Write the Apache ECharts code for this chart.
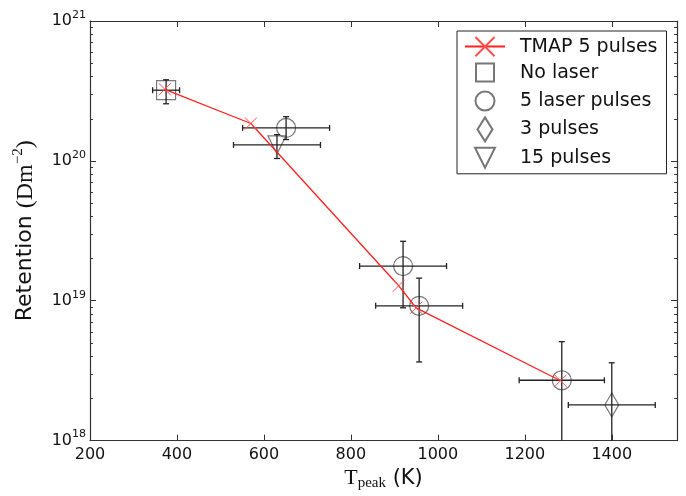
<!DOCTYPE html>
<html>
<head>
<meta charset="utf-8">
<script src="https://cdn.jsdelivr.net/npm/echarts@6/dist/echarts.min.js"></script>
<style>
  html, body { margin: 0; padding: 0; background: #fff; }
  #main { width: 686px; height: 496px; }
</style>
</head>
<body>
<div id="main"></div>
<script>
// TMAP model curve
const tmapT = [372, 570, 910, 950, 1282];
const tmapR = [3.25e20, 1.85e20, 1.28e19, 8.9e18, 2.68e18];

// measurements: T, retention, ±T, retention low, retention high
const noLaserT = [375];
const noLaserR = [3.2e20];
const noLaserTErr = [31];
const noLaserRLo = [2.56e20];
const noLaserRHi = [3.8e20];

const laser5T = [651, 920, 957, 1285];
const laser5R = [1.72e20, 1.77e19, 9.2e18, 2.7e18];
const laser5TErr = [100, 100, 100, 98];
const laser5RLo = [1.42e20, 8.9e18, 3.65e18, 1e18];
const laser5RHi = [2.07e20, 2.66e19, 1.45e19, 5.1e18];

const pulses3T = [1400];
const pulses3R = [1.8e18];
const pulses3TErr = [100];
const pulses3RLo = [1e18];
const pulses3RHi = [3.6e18];

const pulses15T = [630];
const pulses15R = [1.3e20];
const pulses15TErr = [100];
const pulses15RLo = [1.04e20];
const pulses15RHi = [1.54e20];

const yMinor = [];
[1e18, 1e19, 1e20].forEach(d => { for (let k = 2; k <= 9; k++) yMinor.push(k * d); });

const sans = 'DejaVu Sans';
const serif = 'Liberation Serif';
const ink = '#222';
const frame = '#333';
const hollow = 'rgba(0,0,0,0)';
const markerEdge = '#555';

function pts(t, r) { return t.map((v, i) => [v, r[i]]); }
function errRows(t, r, dt, lo, hi) { return t.map((v, i) => [v, r[i], dt[i], lo[i], hi[i]]); }

const errData = [].concat(
  errRows(noLaserT, noLaserR, noLaserTErr, noLaserRLo, noLaserRHi),
  errRows(laser5T, laser5R, laser5TErr, laser5RLo, laser5RHi),
  errRows(pulses3T, pulses3R, pulses3TErr, pulses3RLo, pulses3RHi),
  errRows(pulses15T, pulses15R, pulses15TErr, pulses15RLo, pulses15RHi)
);

function renderErr(params, api) {
  const t = api.value(0), r = api.value(1), dt = api.value(2), lo = api.value(3), hi = api.value(4);
  const c = api.coord([t, r]);
  const xl = api.coord([t - dt, r])[0];
  const xr = api.coord([t + dt, r])[0];
  const cs = params.coordSys;
  const bottom = cs.y + cs.height;
  const yl = api.coord([t, lo])[1];
  const yh = api.coord([t, hi])[1];
  const cap = 3;
  const st = { stroke: ink, lineWidth: 1.3 };
  const kids = [
    { type: 'line', shape: { x1: xl, y1: c[1], x2: xr, y2: c[1] }, style: st },
    { type: 'line', shape: { x1: xl, y1: c[1] - cap, x2: xl, y2: c[1] + cap }, style: st },
    { type: 'line', shape: { x1: xr, y1: c[1] - cap, x2: xr, y2: c[1] + cap }, style: st },
    { type: 'line', shape: { x1: c[0], y1: yh, x2: c[0], y2: Math.min(yl, bottom) }, style: st },
    { type: 'line', shape: { x1: c[0] - cap, y1: yh, x2: c[0] + cap, y2: yh }, style: st }
  ];
  if (yl < bottom - 0.5) {
    kids.push({ type: 'line', shape: { x1: c[0] - cap, y1: yl, x2: c[0] + cap, y2: yl }, style: st });
  }
  return { type: 'group', children: kids };
}

// legend icons drawn in a 40x24 box (corner moves keep the box size)
const box = 'M0,0M40,24';
const crossPath = 'path://M0,0L10,10M10,0L0,10';
const iconRect = 'path://' + box + 'M11,3L29,3L29,21L11,21Z';
const iconCircle = 'path://' + box + 'M10.5,12A9.5,9.5,0,1,1,29.5,12A9.5,9.5,0,1,1,10.5,12Z';
const iconDiamond = 'path://' + box + 'M20,0L27.5,12L20,24L12.5,12Z';
const iconTriDown = 'path://' + box + 'M10,2L30,2L20,22Z';

const axisTick = (len, extra) => Object.assign({ show: true, inside: true, length: len, lineStyle: { color: frame, width: 1 } }, extra || {});

const chart = echarts.init(document.getElementById('main'));
chart.setOption({
  backgroundColor: '#fff',
  animation: false,
  grid: { left: 90, right: 9, top: 21, bottom: 54 },
  legend: {
    orient: 'vertical',
    left: 457,
    top: 31,
    padding: [5, 9, 3, 7],
    borderColor: ink,
    borderWidth: 1,
    itemWidth: 40,
    itemHeight: 24,
    itemGap: 2.4,
    textStyle: { fontFamily: sans, fontSize: 19, color: '#111', padding: [0, 0, 0, 10], lineHeight: 20 },
    data: [
      { name: 'TMAP 5 pulses' },
      { name: 'No laser', icon: iconRect },
      { name: '5 laser pulses', icon: iconCircle },
      { name: '3 pulses', icon: iconDiamond },
      { name: '15 pulses', icon: iconTriDown }
    ]
  },
  xAxis: [
    {
      type: 'value', min: 200, max: 1550, interval: 200,
      name: '{t|T}{p|peak}{k| (K)}',
      nameLocation: 'middle', nameGap: 24,
      nameTextStyle: {
        rich: {
          t: { fontFamily: serif, fontSize: 22, color: '#111' },
          p: { fontFamily: serif, fontSize: 15, color: '#111', padding: [10, 0, 0, 0] },
          k: { fontFamily: sans, fontSize: 21, color: '#111' }
        }
      },
      axisLine: { lineStyle: { color: frame, width: 1.2 } },
      axisTick: axisTick(6),
      axisLabel: { fontFamily: sans, fontSize: 16, color: '#111', margin: 6, showMaxLabel: false, formatter: v => String(v) },
      splitLine: { show: false }
    },
    {
      type: 'value', min: 200, max: 1550, interval: 200, position: 'top',
      axisLine: { lineStyle: { color: frame, width: 1.2 } },
      axisTick: axisTick(6),
      axisLabel: { show: false },
      splitLine: { show: false }
    }
  ],
  yAxis: [
    {
      type: 'log', min: 1e18, max: 1e21, logBase: 10,
      name: '{r|Retention }{m|(Dm}{s|−2}{m|)}',
      nameLocation: 'middle', nameGap: 50,
      nameTextStyle: {
        rich: {
          r: { fontFamily: sans, fontSize: 22, color: '#111' },
          m: { fontFamily: serif, fontSize: 24, color: '#111' },
          s: { fontFamily: serif, fontSize: 15, color: '#111', padding: [0, 0, 14, 0] }
        }
      },
      axisLine: { lineStyle: { color: frame, width: 1.2 } },
      axisTick: axisTick(6),
      axisLabel: {
        margin: 4,
        formatter: v => '{b|10}{s|' + Math.round(Math.log10(v)) + '}',
        rich: {
          b: { fontFamily: sans, fontSize: 16, color: '#111' },
          s: { fontFamily: sans, fontSize: 11, color: '#111', padding: [0, 0, 12, 0] }
        }
      },
      splitLine: { show: false }
    },
    {
      type: 'log', min: 1e18, max: 1e21, logBase: 10, position: 'right',
      axisLine: { lineStyle: { color: frame, width: 1.2 } },
      axisTick: axisTick(6),
      axisLabel: { show: false },
      splitLine: { show: false }
    },
    {
      type: 'log', min: 1e18, max: 1e21, logBase: 10, position: 'left',
      axisLine: { show: false },
      axisTick: axisTick(3, { customValues: yMinor }),
      axisLabel: { show: false },
      splitLine: { show: false }
    },
    {
      type: 'log', min: 1e18, max: 1e21, logBase: 10, position: 'right',
      axisLine: { show: false },
      axisTick: axisTick(3, { customValues: yMinor }),
      axisLabel: { show: false },
      splitLine: { show: false }
    }
  ],
  series: [
    {
      name: 'errors', type: 'custom', renderItem: renderErr,
      data: errData, encode: { x: 0, y: 1 }, z: 3, silent: true
    },
    {
      name: 'TMAP 5 pulses', type: 'line', data: pts(tmapT, tmapR),
      symbol: crossPath, symbolSize: 12, showAllSymbol: true,
      lineStyle: { color: '#ff2020', width: 1.3 },
      itemStyle: { color: '#ff2020', borderColor: '#ff5050', borderWidth: 1 },
      z: 4
    },
    {
      name: 'No laser', type: 'scatter', data: pts(noLaserT, noLaserR),
      symbol: 'rect', symbolSize: 19,
      itemStyle: { color: hollow, borderColor: markerEdge, borderWidth: 1.2 }, z: 2
    },
    {
      name: '5 laser pulses', type: 'scatter', data: pts(laser5T, laser5R),
      symbol: 'circle', symbolSize: 19,
      itemStyle: { color: hollow, borderColor: markerEdge, borderWidth: 1.2 }, z: 2
    },
    {
      name: '3 pulses', type: 'scatter', data: pts(pulses3T, pulses3R),
      symbol: 'diamond', symbolSize: [14, 24],
      itemStyle: { color: hollow, borderColor: markerEdge, borderWidth: 1.2 }, z: 2
    },
    {
      name: '15 pulses', type: 'scatter', data: pts(pulses15T, pulses15R),
      symbol: 'triangle', symbolRotate: 180, symbolSize: 18,
      itemStyle: { color: hollow, borderColor: markerEdge, borderWidth: 1.2 }, z: 2
    }
  ]
});
</script>
</body>
</html>
